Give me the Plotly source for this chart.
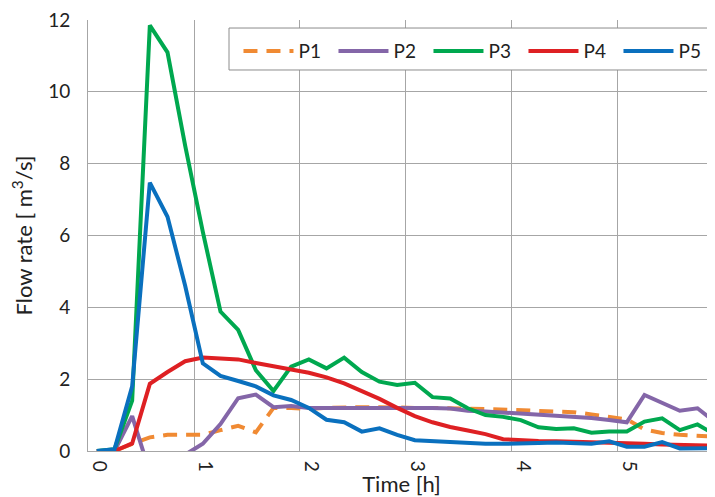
import plotly.graph_objects as go

# time of each sample in minutes (10-minute steps)
time_min = [0, 10, 20, 30, 40, 50, 60, 70, 80, 90, 100, 110, 120, 130, 140, 150, 160, 170,
            180, 190, 200, 210, 220, 230, 240, 250, 260, 270, 280, 290, 300, 310, 320, 330, 340, 350]

p1 = [0, 0, 0.2, 0.38, 0.45, 0.45, 0.45, 0.58, 0.7, 0.52, 1.2, 1.2, 1.17, 1.2, 1.22, 1.22, 1.22, 1.2,
      1.2, 1.2, 1.2, 1.18, 1.17, 1.15, 1.14, 1.12, 1.1, 1.08, 1.02, 0.95, 0.88, 0.6, 0.5, 0.45, 0.42, 0.4]
p2 = [0, 0, 0.97, -0.6, -0.55, -0.1, 0.2, 0.75, 1.47, 1.57, 1.22, 1.25, 1.2, 1.2, 1.21, 1.2, 1.2, 1.21,
      1.21, 1.2, 1.18, 1.12, 1.1, 1.07, 1.05, 1.02, 1.0, 0.97, 0.92, 0.86, 0.8, 1.56, 1.33, 1.12, 1.19, 0.8]
p3 = [0, 0.05, 1.4, 11.85, 11.1, 8.5, 6.1, 3.88, 3.37, 2.25, 1.67, 2.35, 2.55, 2.3, 2.6, 2.2, 1.93, 1.84,
      1.9, 1.5, 1.46, 1.19, 1.0, 0.95, 0.86, 0.66, 0.61, 0.63, 0.51, 0.54, 0.54, 0.82, 0.91, 0.58, 0.74, 0.45]
p4 = [0, 0, 0.21, 1.87, 2.2, 2.5, 2.6, 2.58, 2.55, 2.45, 2.35, 2.27, 2.18, 2.05, 1.88, 1.68, 1.45, 1.2,
      0.97, 0.8, 0.67, 0.57, 0.47, 0.33, 0.3, 0.28, 0.27, 0.26, 0.25, 0.23, 0.22, 0.2, 0.18, 0.17, 0.15, 0.15]
p5 = [0, 0.05, 1.8, 7.47, 6.52, 4.6, 2.44, 2.09, 1.95, 1.8, 1.55, 1.42, 1.2, 0.87, 0.8, 0.54, 0.63, 0.45,
      0.3, 0.27, 0.24, 0.22, 0.2, 0.2, 0.2, 0.22, 0.24, 0.22, 0.2, 0.27, 0.12, 0.12, 0.25, 0.07, 0.07, 0.08]

hour_labels = ["0", "1", "2", "3", "4", "5"]

series = [
    ("P1", p1, "#F08A33", "14px,9px"),
    ("P2", p2, "#8466A8", "solid"),
    ("P3", p3, "#00A84F", "solid"),
    ("P4", p4, "#DE2023", "solid"),
    ("P5", p5, "#0A70BE", "solid"),
]

x_h = [m / 60 for m in time_min]
half = 1 / 12  # Excel category axis: gridlines sit between categories

fig = go.Figure()
for name, vals, color, dash in series:
    fig.add_trace(go.Scatter(x=x_h, y=vals, mode="lines", name=name,
                             line=dict(color=color, width=4, dash=dash)))

font_family = "Lato, 'Open Sans', sans-serif"
grid_col = "#A6A6A6"

# legend frame (white box with grey border)
fig.add_shape(type="rect", xref="paper", yref="paper",
              x0=0.2249, x1=0.9968, y0=0.884, y1=0.9814,
              line=dict(color="#8C8C8C", width=1), fillcolor="white", layer="above")

fig.update_layout(
    width=707, height=489,
    margin=dict(l=80, r=0, t=12, b=46, autoexpand=False),
    paper_bgcolor="white", plot_bgcolor="white",
    font=dict(family=font_family, size=19, color="#222222"),
    showlegend=True,
    legend=dict(orientation="h", x=0.24, y=0.972, xanchor="left", yanchor="top",
                borderwidth=0, bgcolor="rgba(0,0,0,0)",
                font=dict(size=19), entrywidth=30, entrywidthmode="pixels",
                itemwidth=50),
    xaxis=dict(range=[-half, 5.832], tickvals=[k - half for k in range(len(hour_labels))],
               ticktext=hour_labels, tickangle=90, ticklabelshift=11, ticklabelstandoff=5,
               ticklabeloverflow="allow",
               showgrid=True, gridcolor=grid_col, gridwidth=1, automargin=False,
               showline=True, linecolor=grid_col, linewidth=1, zeroline=False,
               ticks="", tickfont=dict(size=19),
               title=dict(text="Time [h]", font=dict(size=22), standoff=8)),
    yaxis=dict(range=[0, 12], dtick=2, showgrid=True, gridcolor=grid_col, gridwidth=1,
               showline=True, linecolor=grid_col, linewidth=1, zeroline=False,
               ticks="", tickfont=dict(size=19), ticklabelstandoff=13, automargin=False,
               ticklabeloverflow="allow",
               title=dict(text="Flow rate [ m<sup>3</sup>/s]", font=dict(size=22), standoff=18)),
)

fig.write_html("out.html")
